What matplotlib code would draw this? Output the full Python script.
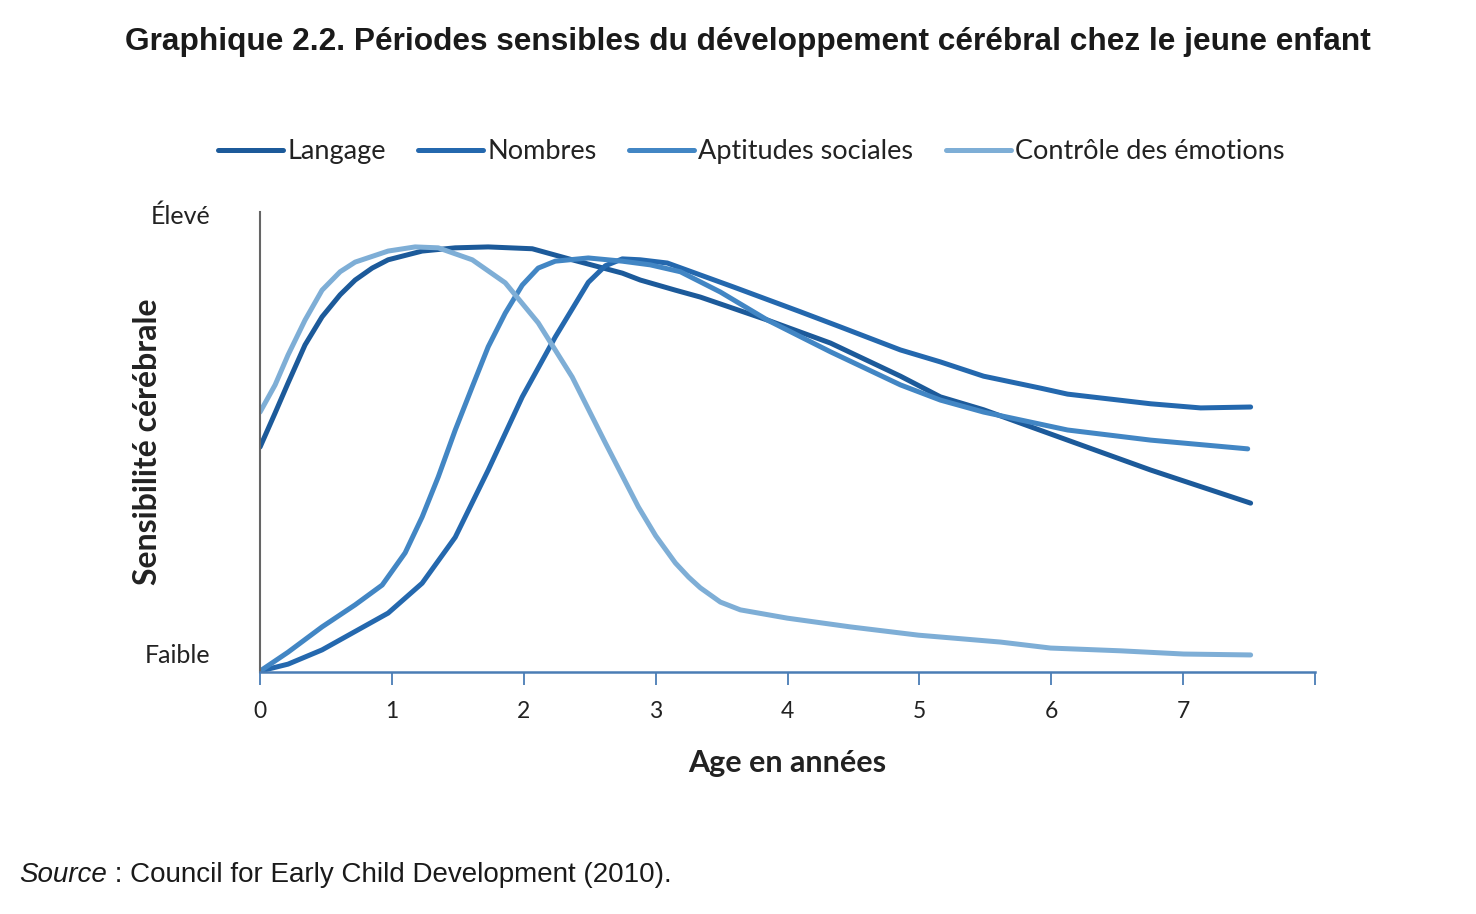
import matplotlib.pyplot as plt
import numpy as np
from matplotlib.transforms import offset_copy

# age en années / sensibilité (0 = faible, 1 = élevé)
age_langage = [0, 0.114, 0.212, 0.341, 0.470, 0.607, 0.721, 0.850, 0.971, 1.229, 1.480, 1.730,
               2.064, 2.367, 2.747, 2.883, 3.149, 3.338, 3.847, 4.325, 4.856, 5.159, 5.486,
               6.123, 6.753, 7.511]
sens_langage = [0.489, 0.563, 0.628, 0.711, 0.772, 0.820, 0.852, 0.878, 0.896, 0.915, 0.922, 0.924,
                0.920, 0.896, 0.867, 0.852, 0.830, 0.815, 0.765, 0.715, 0.643, 0.598, 0.570,
                0.504, 0.439, 0.367]

age_nombres = [0, 0.212, 0.470, 0.971, 1.229, 1.480, 1.730, 1.988, 2.238, 2.489, 2.618, 2.747,
               2.883, 3.088, 3.589, 4.097, 4.401, 4.856, 5.159, 5.486, 5.918, 6.123, 6.753,
               7.132, 7.511]
sens_nombres = [0.002, 0.017, 0.048, 0.128, 0.193, 0.293, 0.439, 0.598, 0.728, 0.847, 0.883, 0.898,
                0.896, 0.889, 0.837, 0.783, 0.750, 0.700, 0.674, 0.643, 0.617, 0.604, 0.583,
                0.574, 0.576]

age_sociales = [0, 0.212, 0.470, 0.721, 0.926, 1.100, 1.229, 1.351, 1.480, 1.609, 1.730, 1.859,
                1.988, 2.109, 2.238, 2.489, 2.747, 2.959, 3.187, 3.490, 3.847, 4.325, 4.856,
                5.159, 5.486, 6.123, 6.753, 7.489]
sens_sociales = [0.002, 0.043, 0.098, 0.146, 0.189, 0.259, 0.337, 0.424, 0.526, 0.620, 0.707, 0.780,
                 0.841, 0.878, 0.893, 0.900, 0.893, 0.885, 0.870, 0.826, 0.765, 0.696, 0.624,
                 0.591, 0.565, 0.526, 0.504, 0.485]

age_emotions = [0, 0.114, 0.212, 0.341, 0.470, 0.607, 0.721, 0.971, 1.176, 1.351, 1.609, 1.859,
                2.109, 2.367, 2.618, 2.868, 3.0, 3.149, 3.25, 3.338, 3.490, 3.642, 3.998, 4.476,
                4.992, 5.615, 5.994, 6.525, 7.003, 7.511]
sens_emotions = [0.565, 0.624, 0.689, 0.765, 0.830, 0.870, 0.891, 0.915, 0.924, 0.922, 0.896, 0.846,
                 0.759, 0.641, 0.498, 0.359, 0.296, 0.237, 0.206, 0.183, 0.152, 0.135, 0.117, 0.098,
                 0.080, 0.065, 0.052, 0.046, 0.039, 0.037]

series = ['Langage', 'Nombres', 'Aptitudes sociales', 'Contrôle des émotions']
colours = ['#1c5a9a', '#2468ae', '#4286c4', '#7eaed6']
x_ticks = [0, 1, 2, 3, 4, 5, 6, 7, 8]
x_labels = ['0', '1', '2', '3', '4', '5', '6', '7', '']

plt.rcParams['font.family'] = ['Lato', 'DejaVu Sans']

fig = plt.figure(figsize=(14.76, 9.14), dpi=100)
ax = fig.add_axes([0.1762, 0.2648, 0.7148, 0.5033])

data = [(age_langage, sens_langage), (age_nombres, sens_nombres),
        (age_sociales, sens_sociales), (age_emotions, sens_emotions)]
for (xs, ys), name, c in zip(data, series, colours):
    ax.plot(xs, ys, color=c, lw=3.6, label=name, solid_joinstyle='round', solid_capstyle='round')

ax.set_xlim(0, 8)
ax.set_ylim(0, 1)
ax.set_xticks(x_ticks)
ax.set_xticklabels(x_labels, fontsize=16.5, color='#222222')
ax.tick_params(axis='x', direction='out', length=9, width=1.3, color='#4a7db5', pad=12)
ax.set_yticks([0.041, 0.996])
ax.set_yticklabels(['Faible', 'Élevé'], fontsize=18, color='#222222')
ax.tick_params(axis='y', length=0, pad=36)
for s in ['top', 'right']:
    ax.spines[s].set_visible(False)
ax.spines['left'].set_color('#666666')
ax.spines['left'].set_linewidth(1.5)
ax.spines['bottom'].set_color('#4a7db5')
ax.spines['bottom'].set_linewidth(1.8)

ax.set_xlabel('Age en années', fontsize=22, fontweight='bold', color='#222222', labelpad=19)
ax.set_ylabel('Sensibilité cérébrale', fontsize=23, fontweight='bold', color='#222222')
ax.yaxis.set_label_coords(-0.093, 0.5)

fig.legend(loc='center', bbox_to_anchor=(0.509, 0.834), ncol=4, frameon=False, fontsize=19.5,
           handlelength=2.4, handletextpad=0.15, columnspacing=1.2, labelcolor='#222222')

fig.text(0.507, 0.954, 'Graphique 2.2. Périodes sensibles du développement cérébral chez le jeune enfant',
         ha='center', va='center', fontsize=22.8, fontweight='bold', family='Liberation Sans', color='#1a1a1a')

# source : "Source" en italique, suite en romain
src = fig.text(0.013, 0.035, 'Source', ha='left', va='baseline', fontsize=20, style='italic',
               family='Liberation Sans', color='#1a1a1a')
fig.canvas.draw()
w = src.get_window_extent().width
fig.text(0.013, 0.035, ' : Council for Early Child Development (2010).', ha='left', va='baseline',
         fontsize=20, family='Liberation Sans', color='#1a1a1a',
         transform=offset_copy(fig.transFigure, fig=fig, x=w, y=0, units='dots'))

plt.savefig('out.png', dpi=100)
